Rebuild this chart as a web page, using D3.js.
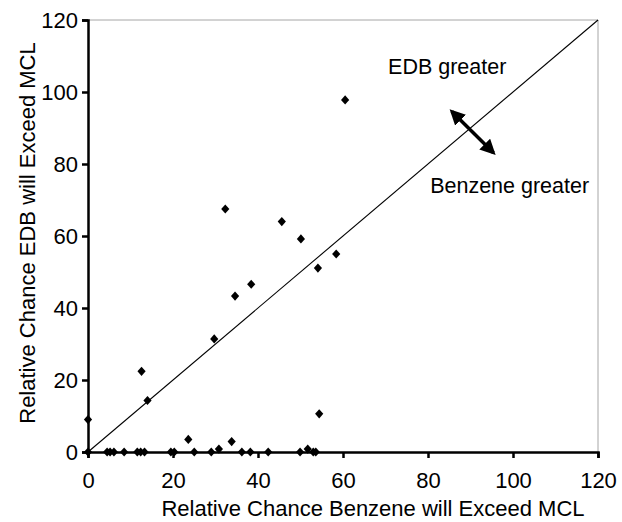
<!DOCTYPE html>
<html>
<head>
<meta charset="utf-8">
<script src="https://cdn.jsdelivr.net/npm/d3@7"></script>
<style>
  html, body { margin: 0; padding: 0; background: #fff; }
  svg { display: block; font-family: Arial, "Liberation Sans", sans-serif; }
</style>
</head>
<body>
<svg id="chart" width="622" height="522"></svg>
<script>
// Benzene (x) vs EDB (y) relative chance of exceeding MCL
const benzene = [0, 0, 4.5, 5.2, 6.1, 8.5, 11.6, 12.4, 13.3, 19.5, 20.3, 25.0, 29.0, 36.2, 38.2, 42.4, 49.9, 53.0, 53.6,
                 30.8, 51.7, 23.6, 33.8, 54.4, 14.0, 12.6, 29.7, 32.3, 34.6, 38.4, 45.6, 50.1, 54.1, 58.4, 60.5];
const edb     = [9.0, 0, 0, 0, 0, 0, 0, 0, 0, 0, 0, 0, 0, 0, 0, 0, 0, 0, 0,
                 0.8, 0.8, 3.5, 2.9, 10.6, 14.3, 22.4, 31.4, 67.5, 43.3, 46.6, 64.0, 59.2, 51.1, 55.0, 97.8];
const xTicks = [0, 20, 40, 60, 80, 100, 120];
const yTicks = [0, 20, 40, 60, 80, 100, 120];
const xTitle = "Relative Chance Benzene will Exceed MCL";
const yTitle = "Relative Chance EDB will Exceed MCL";
const labelAbove = "EDB greater";
const labelBelow = "Benzene greater";
const equalLine = [[0, 0], [120, 120]];
const arrowEnds = [[85.6, 94.6], [95.4, 83.1]];
const labelAbovePos = [70.6, 105];
const labelBelowPos = [80.5, 72];

const svg = d3.select("#chart");
const pLeft = 88, pRight = 598, pTop = 20, pBottom = 452;
const x = d3.scaleLinear().domain([0, 120]).range([pLeft, pRight]);
const y = d3.scaleLinear().domain([0, 120]).range([pBottom, pTop]);

const defs = svg.append("defs");
defs.append("marker").attr("id", "ahEnd").attr("viewBox", "0 0 10 10")
  .attr("refX", 8).attr("refY", 5).attr("markerWidth", 4.4).attr("markerHeight", 4.4)
  .attr("orient", "auto").append("path").attr("d", "M0,0 L10,5 L0,10 Z").attr("fill", "#000");
defs.append("marker").attr("id", "ahStart").attr("viewBox", "0 0 10 10")
  .attr("refX", 2).attr("refY", 5).attr("markerWidth", 4.4).attr("markerHeight", 4.4)
  .attr("orient", "auto").append("path").attr("d", "M10,0 L0,5 L10,10 Z").attr("fill", "#000");

// plot border (top/right)
svg.append("path")
  .attr("d", `M${pLeft},${pTop}H${pRight}V${pBottom}`)
  .attr("fill", "none").attr("stroke", "#a6a6a6").attr("stroke-width", 1);

// 1:1 line
svg.append("path")
  .attr("d", d3.line().x(d => x(d[0])).y(d => y(d[1]))(equalLine))
  .attr("fill", "none").attr("stroke", "#000").attr("stroke-width", 1.1);

// axes
const xAxis = svg.append("g").attr("transform", `translate(0,${pBottom})`)
  .call(d3.axisBottom(x).tickValues(xTicks).tickSize(6).tickPadding(14));
const yAxis = svg.append("g").attr("transform", `translate(${pLeft},0)`)
  .call(d3.axisLeft(y).tickValues(yTicks).tickSize(6).tickPadding(4));
[xAxis, yAxis].forEach(g => {
  g.select(".domain").attr("stroke", "#000").attr("stroke-width", 2.5);
  g.selectAll(".tick line").attr("stroke", "#000").attr("stroke-width", 2.5);
  g.selectAll(".tick text").attr("fill", "#000").style("font-size", "22px")
   .style("font-family", "Arial, 'Liberation Sans', sans-serif");
});
yAxis.selectAll(".tick text").attr("dy", "0.35em");

// points
const diamond = "M0,-4.6L4.1,0L0,4.6L-4.1,0Z";
svg.append("g").selectAll("path").data(benzene.map((b, i) => [b, edb[i]]))
  .join("path")
  .attr("d", diamond)
  .attr("transform", d => `translate(${x(d[0])},${y(d[1])})`)
  .attr("fill", "#000");

// arrow
svg.append("line")
  .attr("x1", x(arrowEnds[0][0])).attr("y1", y(arrowEnds[0][1]))
  .attr("x2", x(arrowEnds[1][0])).attr("y2", y(arrowEnds[1][1]))
  .attr("stroke", "#000").attr("stroke-width", 3.5)
  .attr("marker-start", "url(#ahStart)").attr("marker-end", "url(#ahEnd)");

// labels
svg.append("text").attr("x", x(labelAbovePos[0])).attr("y", y(labelAbovePos[1]))
  .style("font-size", "21.5px").attr("fill", "#000").text(labelAbove);
svg.append("text").attr("x", x(labelBelowPos[0])).attr("y", y(labelBelowPos[1]))
  .style("font-size", "21.5px").attr("fill", "#000").text(labelBelow);

// titles
svg.append("text").attr("x", (pLeft + pRight) / 2 + 30).attr("y", 516)
  .attr("text-anchor", "middle").style("font-size", "22px").attr("fill", "#000").text(xTitle);
svg.append("text").attr("transform", `translate(35,${(pTop + pBottom) / 2 - 3}) rotate(-90)`)
  .attr("text-anchor", "middle").style("font-size", "22px").attr("fill", "#000").text(yTitle);
</script>
</body>
</html>
